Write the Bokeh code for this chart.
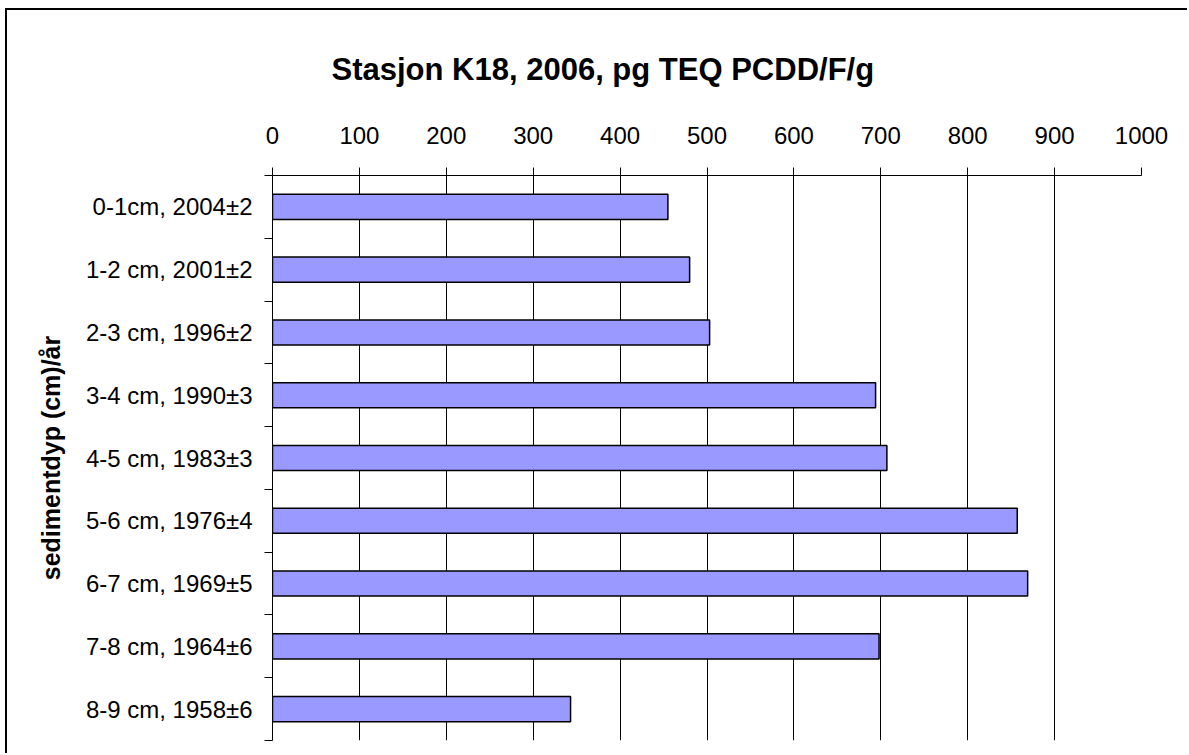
from bokeh.plotting import figure
from bokeh.models import Range1d, FixedTicker
from bokeh.embed import file_html
from bokeh.resources import INLINE

# ---- data ----
categories = ["0-1cm, 2004±2", "1-2 cm, 2001±2", "2-3 cm, 1996±2", "3-4 cm, 1990±3",
              "4-5 cm, 1983±3", "5-6 cm, 1976±4", "6-7 cm, 1969±5", "7-8 cm, 1964±6",
              "8-9 cm, 1958±6"]
values = [455, 480, 503, 694, 707, 857, 869, 698, 343]
x_ticks = [0, 100, 200, 300, 400, 500, 600, 700, 800, 900, 1000]
title_text = "Stasjon K18, 2006, pg TEQ PCDD/F/g"
y_title = "sedimentdyp (cm)/år"

FONT = "Liberation Sans"
n = len(categories)
ypos = [i + 0.5 for i in range(n)]

W, H = 1182, 745
p = figure(width=W, height=H, output_backend="svg", toolbar_location=None,
           x_range=Range1d(0, 1000), y_range=Range1d(n, 0),
           x_axis_location="above", y_axis_location="left",
           min_border_left=265, min_border_right=48, min_border_top=165,
           min_border_bottom=15, outline_line_color=None,
           background_fill_color="white", border_fill_color="white")
p.styles = {"margin-left": "5px", "margin-top": "8px",
            "border-left": "2px solid black", "border-top": "2px solid black"}

p.hbar(y=ypos, left=0, right=values, height=0.4, fill_color="#9999FF",
       line_color="black", line_width=1.5)

# x axis (above)
xa = p.xaxis[0]
xa.ticker = FixedTicker(ticks=x_ticks, minor_ticks=[])
xa.major_tick_out = 8
xa.major_tick_in = 0
xa.minor_tick_out = 0
xa.minor_tick_in = 0
xa.axis_line_color = "black"
xa.major_tick_line_color = "black"
xa.major_label_text_font = FONT
xa.major_label_text_font_size = "24px"
xa.major_label_text_color = "black"
xa.major_label_standoff = 24

# y axis
ya = p.yaxis[0]
ya.ticker = FixedTicker(ticks=ypos, minor_ticks=list(range(n + 1)))
ya.major_label_overrides = {yp: c for yp, c in zip(ypos, categories)}
ya.major_tick_out = 0
ya.major_tick_in = 0
ya.minor_tick_out = 8
ya.minor_tick_in = 0
ya.minor_tick_line_color = "black"
ya.axis_line_color = "black"
ya.major_label_text_font = FONT
ya.major_label_text_font_size = "24px"
ya.major_label_text_color = "black"
ya.major_label_standoff = 12
ya.axis_label = y_title
ya.axis_label_text_font = FONT
ya.axis_label_text_font_size = "25px"
ya.axis_label_text_font_style = "bold"
ya.axis_label_text_color = "black"
ya.axis_label_standoff = 18

p.xgrid.ticker = FixedTicker(ticks=x_ticks)
p.xgrid.grid_line_color = "black"
p.xgrid.grid_line_width = 1
p.ygrid.grid_line_color = None

p.title.text = title_text
p.title.text_font = FONT
p.title.text_font_size = "31px"
p.title.text_font_style = "bold"
p.title.text_color = "black"
p.title.align = "left"
p.title.offset = 59
p.title.standoff = 74

open("out.html", "w").write(file_html(p, INLINE))
